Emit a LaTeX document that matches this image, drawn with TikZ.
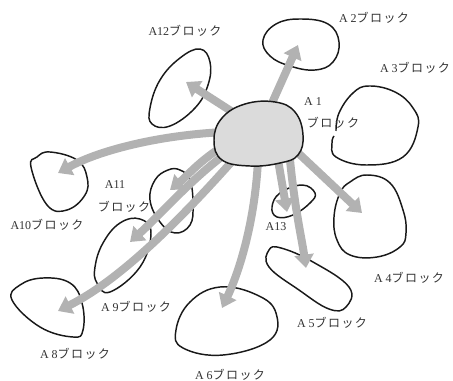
\documentclass[tikz,border=0pt]{standalone}
\usepackage{fontspec}
\setmainfont{Liberation Serif}
\newfontfamily\jp[LetterSpace=12]{Noto Sans CJK JP}
\usetikzlibrary{arrows.meta}
\begin{document}
\begin{tikzpicture}[x=0.75pt,y=-0.75pt,
  blob/.style={draw=black!90,line width=1.1pt},
  flow/.style={draw=black!30,line width=6pt,-{Triangle[width=14pt,length=10pt]}},
  lbl/.style={text=black!80,font=\fontsize{9}{10}\selectfont,inner sep=0pt}]
\useasboundingbox (0,0) rectangle (453,381);
% arrow coordinates
\coordinate (s2) at (268,112);  \coordinate (t2) at (298,45);
\coordinate (s12) at (245,120); \coordinate (t12) at (186,82);
\coordinate (s10) at (225,132); \coordinate (t10) at (58,173);
\coordinate (s11) at (225,145); \coordinate (t11) at (170,190);
\coordinate (s9) at (228,152);  \coordinate (t9) at (130,242);
\coordinate (s8) at (235,158);  \coordinate (t8) at (58,311);
\coordinate (s6) at (258,160);  \coordinate (t6) at (222,308);
\coordinate (s13) at (278,160); \coordinate (t13) at (287,212);
\coordinate (s5) at (290,160);  \coordinate (t5) at (306,268);
\coordinate (s4) at (295,150);  \coordinate (t4) at (362,213);
% blobs
\draw[blob] plot[smooth cycle,tension=0.7] coordinates {(263,40) (276,24) (300,19) (328,24) (339,42) (333,62) (315,70) (290,66) (270,56)};
\draw[blob] plot[smooth,tension=0.7] coordinates {(336,131) (339,113) (353,93) (369,86) (395,92) (413,108) (418,127) (403,157) (366,165) (336,157) (332,143) (334,136)};
\draw[blob] plot[smooth cycle,tension=0.7] coordinates {(200,49) (210,62) (208,85) (195,108) (170,126) (152,124) (150,108) (160,80) (180,58)};
\draw[blob] plot[smooth cycle,tension=0.7] coordinates {(50,152) (77,160) (87,177) (85,195) (67,210) (47,205) (31,167) (37,157)};
\draw[blob] plot[smooth cycle,tension=0.7] coordinates {(180,170) (190,180) (193,205) (190,225) (175,233) (160,222) (150,200) (155,180) (168,170)};
\draw[blob] plot[smooth cycle,tension=0.7] coordinates {(140,219) (151,233) (140,267) (110,292) (97,283) (95,267) (103,243) (120,223)};
\draw[blob] plot[smooth cycle,tension=0.7] coordinates {(43,278) (70,283) (82,303) (83,330) (73,337) (40,327) (12,300) (20,285)};
\draw[blob] plot[smooth cycle,tension=0.7] coordinates {(220,287) (257,295) (276,313) (270,340) (223,355) (183,348) (176,330) (190,302)};
\draw[blob] plot[smooth cycle,tension=0.7] coordinates {(269,250) (281,248) (313,262) (349,287) (346,307) (329,309) (299,290) (269,267)};
\draw[blob] plot[smooth cycle,tension=0.7] coordinates {(367,175) (390,183) (403,210) (406,233) (400,247) (377,257) (350,255) (337,240) (334,217) (340,193) (350,182)};
\draw[blob] plot[smooth cycle,tension=0.7] coordinates {(272,207) (280,193) (302,185) (315,193) (310,203) (293,215) (277,217)};
% arrows
\draw[flow] (s2) -- (t2);
\draw[flow] (s12) -- (t12);
\draw[flow] (s10) .. controls (160,135) and (100,150) .. (t10);
\draw[flow] (s11) .. controls (200,160) and (185,178) .. (t11);
\draw[flow] (s9) .. controls (190,180) and (160,215) .. (t9);
\draw[flow] (s8) .. controls (180,220) and (120,280) .. (t8);
\draw[flow] (s6) .. controls (255,220) and (240,270) .. (t6);
\draw[flow] (s13) -- (t13);
\draw[flow] (s5) .. controls (295,210) and (302,240) .. (t5);
\draw[flow] (s4) -- (t4);
% central blob
\draw[blob,fill=black!14] plot[smooth cycle,tension=0.7] coordinates {(214,140) (222,118) (245,104) (275,102) (295,112) (303,135) (298,155) (280,163) (250,166) (222,160)};
% labels
\node[lbl] (l12) at (185,31) {A12\jp ブロック};
\node[lbl] (l2) at (374,18) {A 2\jp ブロック};
\node[lbl] (l3) at (415,68) {A 3\jp ブロック};
\node[lbl] (l1a) at (313,102) {A 1};
\node[lbl] (l1b) at (333,123) {\jp ブロック};
\node[lbl] (l11a) at (115,185) {A11};
\node[lbl] (l11b) at (124,207) {\jp ブロック};
\node[lbl] (l10) at (47,225) {A10\jp ブロック};
\node[lbl] (l9) at (136,307) {A 9\jp ブロック};
\node[lbl] (l8) at (75,354) {A 8\jp ブロック};
\node[lbl] (l6) at (230,375) {A 6\jp ブロック};
\node[lbl] (l5) at (332,323) {A 5\jp ブロック};
\node[lbl] (l4) at (409,278) {A 4\jp ブロック};
\node[lbl] (l13) at (276,227) {A13};
\end{tikzpicture}
\end{document}
